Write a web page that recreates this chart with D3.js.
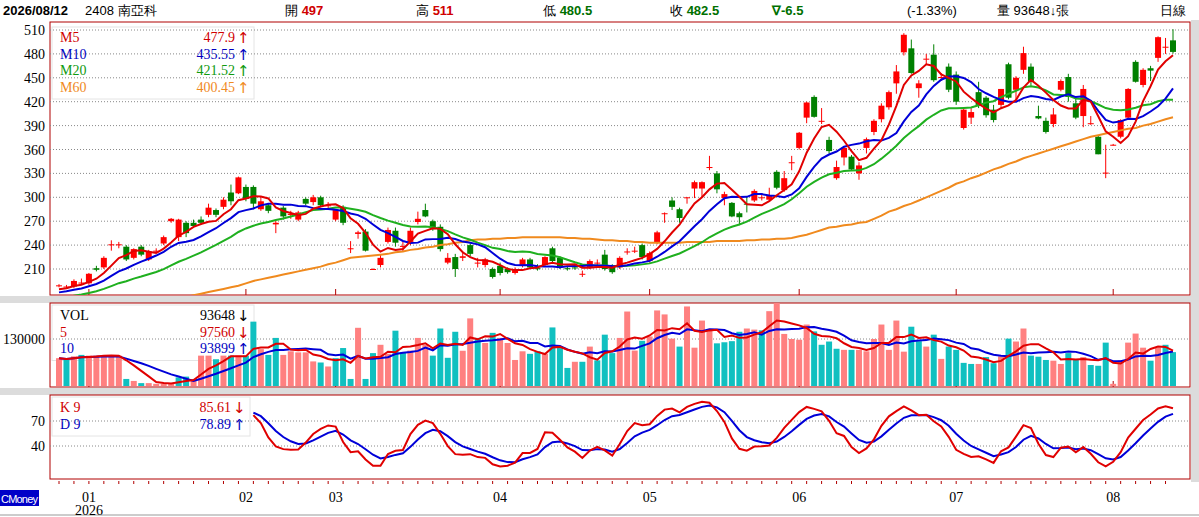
<!DOCTYPE html>
<html><head><meta charset="utf-8">
<script src="https://cdn.jsdelivr.net/npm/d3@7"></script>
<style>
body{margin:0;background:#fff;}
text{font-family:"Liberation Serif","DejaVu Serif",serif;}
.hd{font-family:"Liberation Sans",Arial,sans-serif;font-size:13px;}
.ar{font-family:"DejaVu Sans",sans-serif;font-size:15px;}
</style></head><body>
<div id="chart"></div>
<script>
// daily candles, Dec 2025 - 2026/08/12
var opens  = [189,188,188,193,192,211,212,241,240,238,224,238,222,233,242,270,250,268,268,272,278,284,288,306,305,313,313,285,290,266,287,279,272,298,294,300,290,272,288,236,254,257,210,215,244,258,238,244,269,284,270,263,218,225,224,240,218,215,210,214,210,205,214,222,211,215,236,224,211,212,204,212,218,228,214,212,232,233,240,220,243,280,296,285,299,311,311,338,330,299,293,280,292,296,300,297,332,309,344,362,400,426,395,372,324,350,351,330,362,382,398,413,443,482,487,437,474,479,451,464,454,387,400,432,425,410,416,467,435,460,464,402,396,392,435,451,418,402,393,376,331,366,376,400,470,441,462,475,489,497];
var highs  = [191,190,197,198,205,214,226,246,244,240,236,240,234,236,252,274,273,270,272,276,292,286,300,316,326,316,315,300,292,270,289,283,283,300,303,302,294,285,290,245,258,260,211,228,262,262,244,262,282,292,272,266,230,229,232,242,224,224,212,218,212,212,224,224,216,226,238,226,214,215,208,222,222,234,216,226,236,238,242,232,258,281,300,287,300,321,320,352,333,307,294,282,301,310,304,312,334,333,352,382,420,428,412,376,346,363,353,344,375,398,418,434,466,506,498,447,480,492,456,468,458,412,412,445,427,416,436,469,452,489,468,415,400,412,448,455,424,441,402,378,366,367,398,437,472,462,465,502,500,511];
var lows   = [187,186,186,190,190,207,210,233,236,220,222,226,220,230,240,268,245,250,262,266,275,275,285,290,304,295,285,283,280,255,272,273,270,290,290,288,286,270,265,230,248,232,209,212,242,238,232,240,266,275,258,232,216,200,220,226,212,212,198,202,204,203,212,210,208,213,218,210,208,209,200,210,214,208,204,210,228,230,222,218,241,268,284,268,292,299,300,334,305,290,275,265,281,294,296,295,310,307,334,360,393,400,392,355,322,340,333,322,355,378,394,410,430,478,455,425,466,445,446,432,416,385,392,412,400,394,412,423,420,455,440,398,380,388,433,420,398,388,391,354,324,365,374,398,444,438,446,470,480,480.5];
var closes = [189.5,188,195,193,204,209,224,241,241,222,235,228,232,233,250,273,272,255,264,268,287,278,297,295,325,298,292,295,283,268,276,279,281,292,300,290,290,284,268,236,256,233,210,224,259,243,239,258,273,276,260,235,224,210,226,229,218,222,200,205,206,210,222,212,210,225,220,213,210,211,204,220,218,210,206,224,232,233,225,230,256,280,288,274,300,319,319,338,310,304,276,275,291,308,300,302,312,324,344,381,419,401,396,358,338,362,335,340,373,396,415,432,458,504,456,443,474,447,451,435,420,410,407,416,403,397,436,425,450,481,445,399,382,404,446,426,400,436,393,354,331,366,397,436,445,460,459,501,489,482.5];
var volumes = [77000,72000,82000,86000,84000,84000,84000,84000,84000,19500,14000,8000,8000,6000,6000,7000,24000,26000,18600,84000,84000,74000,84000,84000,84000,84000,178000,102000,86000,133000,86000,96000,93000,93000,68000,65000,54000,77000,105000,19500,161000,19500,91000,114000,89000,153000,93000,98000,133000,114000,84000,159000,78000,150000,97500,187000,133000,119000,147000,133000,119000,72000,96000,89000,96000,89000,162000,105000,50000,67000,67000,109000,71000,142000,91000,133000,206000,98000,125000,137000,209000,198000,131000,109000,220000,106000,181000,153000,118000,121000,124000,150000,159000,156000,154000,207000,230000,144000,130000,128000,170000,151000,114000,123000,103000,100000,100000,100000,96000,130000,170000,100000,181000,95000,164000,124000,109000,142000,75000,109000,100000,64000,61000,61000,80000,63000,82000,131000,123000,159000,84000,81000,72000,70000,61000,91000,72000,80000,58000,56000,120000,6000,71000,120000,145000,106000,70000,106000,114000,93648];
// closes before the window, used only to seed the short averages
var priorCloses = [160,158,162,165,163,167,170,168,172,171,175,174,178,176,180,182,181,185,186];
var m60 = [160,161,161,162,163,163,164,165,166,166,167,168,169,170,171,172,173,175,
 177,179,181,183,185,187,189,192,
 195,197,199,201,203,205,207,209,211,213,216,218,221,224,
 225,226,227,228,229,231,232,234,
 235,237,238,240,241,243,244,246,
 247,247,248,248,249,249,250,250,
 250,250,250,250,249,249,248,248,247,246,
 246,245,245,244,244,243,243,243,243,
 243,244,244,244,244,245,245,245,245,
 246,246,247,247,248,248,249,
 251,253,256,259,262,
 263,265,266,268,269,
 273,277,282,
 285,289,292,296,300,
 304,308,312,317,
 320,324,327,331,335,338,342,345,349,
 352,355,358,361,364,367,370,373,376,
 378,380,382,384,386,387,
 390,392,395,398,400.45];
var months = [{i:4,t:"01"},{i:25,t:"02"},{i:37,t:"03"},{i:59,t:"04"},{i:79,t:"05"},{i:99,t:"06"},{i:120,t:"07"},{i:141,t:"08"}];
var priceTicks = [210,240,270,300,330,360,390,420,450,480,510];
var kdStart = 26;

var W = 1199, H = 517, left = 50, right = 1190;
var svg = d3.select("#chart").append("svg").attr("width", W).attr("height", H);
svg.append("rect").attr("width", W).attr("height", H).attr("fill", "#fff");
// gray separators
[[296,7],[388,7]].forEach(function(s){
  svg.append("rect").attr("x",0).attr("y",s[0]).attr("width",W).attr("height",s[1]).attr("fill","#dcdcdc");
});
svg.append("rect").attr("x",right+1).attr("y",20).attr("width",W-right).attr("height",462).attr("fill","#dcdcdc");
svg.append("line").attr("x1",0).attr("x2",W).attr("y1",515).attr("y2",515).attr("stroke","#999");

var x = d3.scaleLinear().domain([0,149]).range([59,1173]);
var n = closes.length;

function sma(arr, k, pre) {
  var all = (pre || []).concat(arr), off = (pre || []).length;
  return arr.map(function(d, i) {
    var j = i + off, s = Math.max(0, j - k + 1);
    return d3.mean(all.slice(s, j + 1));
  });
}
var m5 = sma(closes, 5, priorCloses), m10 = sma(closes, 10, priorCloses), m20 = sma(closes, 20, priorCloses);
var v5 = sma(volumes, 5), v10 = sma(volumes, 10);

// KD 9
var K = [], D = [], k = 77, dd = 80;
for (var i = 0; i < n; i++) {
  if (i < kdStart) { K.push(null); D.push(null); continue; }
  var s = Math.max(0, i - 8);
  var hh = d3.max(highs.slice(s, i + 1)), ll = d3.min(lows.slice(s, i + 1));
  var rsv = hh === ll ? 50 : (closes[i] - ll) / (hh - ll) * 100;
  if (i > kdStart) { k = k * 2 / 3 + rsv / 3; dd = dd * 2 / 3 + k / 3; }
  K.push(k); D.push(dd);
}

function panel(y0, y1, id) {
  svg.append("clipPath").attr("id", id).append("rect").attr("x", left).attr("y", y0).attr("width", right - left).attr("height", y1 - y0);
  var g = svg.append("g");
  var c = svg.append("g").attr("clip-path", "url(#" + id + ")");
  return {g: g, c: c, y0: y0, y1: y1};
}
function grid(p, y, vals) {
  vals.forEach(function(v) {
    p.c.append("line").attr("x1", left).attr("x2", right).attr("y1", y(v)).attr("y2", y(v))
      .attr("stroke", "#888").attr("stroke-dasharray", "1,2");
    p.g.append("text").attr("x", 45).attr("y", y(v) + 5).attr("text-anchor", "end").attr("font-size", 14).text(v);
  });
}
function monthTicks(p) {
  months.forEach(function(m) {
    p.c.append("line").attr("x1", x(m.i)).attr("x2", x(m.i)).attr("y1", p.y1 - 6).attr("y2", p.y1).attr("stroke", "#b00000");
  });
}
function line(p, data, y, color, from) {
  p.c.append("path").datum(data.map(function(d, i){ return [i, d]; }).filter(function(d){ return d[1] != null && d[0] >= (from || 0); }))
    .attr("fill", "none").attr("stroke", color).attr("stroke-width", 2)
    .attr("d", d3.line().x(function(d){ return x(d[0]); }).y(function(d){ return y(d[1]); }));
}
function border(p) {
  p.g.append("rect").attr("x", left).attr("y", p.y0).attr("width", right - left).attr("height", p.y1 - p.y0)
    .attr("fill", "none").attr("stroke", "#b00000");
}
function legend(p, x0, y0, w, rows) {
  p.g.append("rect").attr("x", x0).attr("y", y0).attr("width", w).attr("height", rows.length * 16.5 + 6)
    .attr("fill", "#fff").attr("fill-opacity", 0.9).attr("stroke", "#e4e4e4");
  rows.forEach(function(r, i) {
    var yy = y0 + 15 + i * 16.5;
    p.g.append("text").attr("x", x0 + 8).attr("y", yy).attr("fill", r[2]).attr("font-size", 14).text(r[0]);
    p.g.append("text").attr("x", x0 + w - 19).attr("y", yy).attr("fill", r[2]).attr("font-size", 14).attr("text-anchor", "end").text(r[1]);
    p.g.append("text").attr("class", "ar").attr("x", x0 + w - 17).attr("y", yy + 1).attr("fill", r[2]).text(r[3]);
  });
}

// main price panel
var pm = panel(22, 295, "cm");
var y = d3.scaleLinear().domain([210, 510]).range([269, 30]);
grid(pm, y, priceTicks);
monthTicks(pm);
closes.forEach(function(c, i) {
  var up = c >= opens[i], col = up ? "#ff0000" : "#008000";
  pm.c.append("line").attr("x1", x(i)).attr("x2", x(i)).attr("y1", y(highs[i])).attr("y2", y(lows[i])).attr("stroke", col);
  var top = y(Math.max(c, opens[i])), h = Math.max(1, Math.abs(y(c) - y(opens[i])));
  pm.c.append("rect").attr("x", x(i) - 3).attr("y", top).attr("width", 6).attr("height", h).attr("fill", col);
});
line(pm, m60, y, "#f08a1e");
line(pm, m20, y, "#1fb01f");
line(pm, m10, y, "#0000d8");
line(pm, m5, y, "#e00000");
border(pm);
legend(pm, 52, 27, 202, [["M5","477.9","#d00000","↑"],["M10","435.55","#0000c0","↑"],["M20","421.52","#109a10","↑"],["M60","400.45","#f08a1e","↑"]]);

// volume panel
var pv = panel(303, 387, "cv");
var yv = d3.scaleLinear().domain([0, 130000]).range([386, 339]);
grid(pv, yv, [130000]);
monthTicks(pv);
volumes.forEach(function(v, i) {
  var up = i === 0 || closes[i] >= closes[i - 1];
  pv.c.append("rect").attr("x", x(i) - 3).attr("y", yv(v)).attr("width", 6).attr("height", yv(0) - yv(v))
    .attr("fill", up ? "#ff8080" : "#10c0c0");
});
line(pv, v10, yv, "#0000d8");
line(pv, v5, yv, "#e00000");
border(pv);
legend(pv, 52, 305, 202, [["VOL","93648","#000","↓"],["5","97560","#d00000","↓"],["10","93899","#0000c0","↑"]]);

// KD panel
var pk = panel(395, 479, "ck");
var yk = d3.scaleLinear().domain([40, 70]).range([446, 421]);
grid(pk, yk, [70, 40]);
line(pk, D, yk, "#0000d8", kdStart);
line(pk, K, yk, "#e00000", kdStart);
border(pk);
legend(pk, 52, 397, 198, [["K 9","85.61","#d00000","↓"],["D 9","78.89","#0000c0","↑"]]);

// day ticks & months
for (var j = 0; j < n; j += 2) {
  svg.append("line").attr("x1", x(j)).attr("x2", x(j)).attr("y1", 481).attr("y2", 484).attr("stroke", "#b00000");
}
months.forEach(function(m) {
  svg.append("text").attr("x", x(m.i)).attr("y", 502).attr("text-anchor", "middle").attr("font-size", 14).text(m.t);
});
svg.append("text").attr("x", x(4)).attr("y", 515).attr("text-anchor", "middle").attr("font-size", 14).text("2026");
svg.append("rect").attr("x", 0).attr("y", 490).attr("width", 39).attr("height", 16).attr("fill", "#0000c8");
svg.append("text").attr("x", 1).attr("y", 503).attr("fill", "#fff").attr("font-size", 11)
  .style("font-family", "'Liberation Sans',Arial,sans-serif").attr("textLength", 37).text("CMoney");

// header
var hdr = [
  {x:3, parts:[["2026/08/12","#000",true]]},
  {x:85, parts:[["2408 南亞科","#000",false]]},
  {x:285, parts:[["開 ","#000",false],["497","#d00000",true]]},
  {x:416, parts:[["高 ","#000",false],["511","#d00000",true]]},
  {x:543, parts:[["低 ","#000",false],["480.5","#007000",true]]},
  {x:670, parts:[["收 ","#000",false],["482.5","#007000",true]]},
  {x:772, parts:[["∇-6.5","#007000",true]]},
  {x:907, parts:[["(-1.33%)","#000",false]]},
  {x:997, parts:[["量 93648↓張","#000",false]]},
  {x:1160, parts:[["日線","#000",false]]}
];
hdr.forEach(function(h) {
  var t = svg.append("text").attr("class", "hd").attr("x", h.x).attr("y", 15);
  h.parts.forEach(function(p) {
    t.append("tspan").attr("fill", p[1]).attr("font-weight", p[2] ? "bold" : "normal").text(p[0]);
  });
});
</script>
</body></html>
